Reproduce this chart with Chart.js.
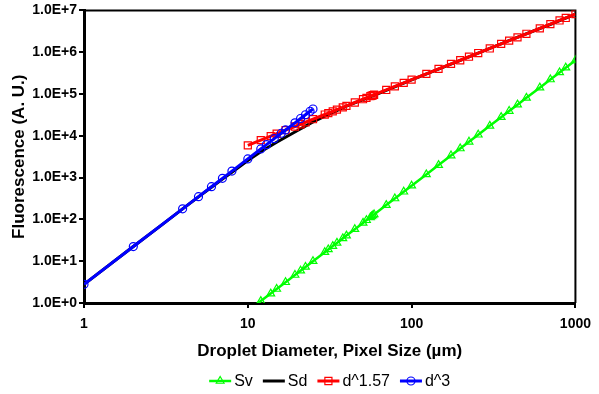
<!DOCTYPE html>
<html><head><meta charset="utf-8">
<script src="https://cdn.jsdelivr.net/npm/chart.js@4.4.1/dist/chart.umd.min.js"></script>
<style>html,body{margin:0;padding:0;background:#fff;overflow:hidden;}</style>
</head><body>
<canvas id="c" width="599" height="394"></canvas>
<script>
// ---- data ----
const xTickValues = [1, 10, 100, 1000];
const yTickValues = [1, 1e1, 1e2, 1e3, 1e4, 1e5, 1e6, 1e7];
const seriesNames = ['Sv', 'Sd', 'd^1.57', 'd^3'];

// pixel sizes (µm) shared by the Sv and d^1.57 series
const pixelSizes = [10, 12, 13.8, 15, 17, 19.4, 21, 22.5, 25, 29.5, 31, 33, 35, 38, 40, 45, 50.5, 53, 56, 57, 58, 59,
  70, 79, 89.5, 100, 123, 146, 174, 198, 224, 255, 300, 352, 394, 443, 502, 606, 703, 800, 873, 1000];
const svValues = [0.64, 1.11, 1.68, 2.16, 3.14, 4.67, 5.93, 7.29, 10.0, 16.4, 19.1, 23.0, 27.4, 35.1, 41.0, 58.3, 82.4, 95.3, 112, 118, 125, 131,
  220, 316, 459, 640, 1190, 1990, 3370, 4970, 7190, 10600, 17300, 27900, 39100, 55600, 81000, 142000, 222000, 328000, 426000, 640000];
const d157Values = [5900, 7860, 9800, 11200, 13600, 16700, 18900, 21100, 24900, 32300, 34900, 38500, 42200, 48000, 52100, 62600, 75100, 81000, 88400, 90800, 93300, 95900,
  125000, 152000, 184000, 220000, 304000, 398000, 524000, 642000, 779000, 954000, 1230000, 1580000, 1890000, 2270000, 2760000, 3710000, 4690000, 5750000, 6590000, 8150000];

// Sd curve
const sdDiameters = [1, 2, 3, 4, 5, 6, 7, 8, 10, 12, 15, 20, 25, 30, 40, 60, 100, 200, 400, 700, 1000];
const sdValues = [2.8, 22.4, 75, 178, 345, 590, 920, 1340, 2550, 4150, 7000, 13200, 21500, 30500, 51000, 95000, 219000, 650000, 1950000, 4600000, 8100000];

// d^3 series
const d3Diameters = [1, 2, 4, 5, 6, 7, 8, 10, 12, 13, 14.5, 16, 17, 19.4, 21, 22.5, 24, 25];
const d3Values = [2.8, 22.4, 179, 350, 605, 960, 1430, 2800, 4840, 6150, 8540, 11500, 13800, 20400, 25900, 31900, 38700, 43800];

// ---- styling ----
const FONT = '"Liberation Sans", Arial, sans-serif';
const seriesStyle = [
  { color: '#00ff00', marker: 'triangle', radius: 4.5, width: 2.5 },
  { color: '#000000', marker: null, radius: 0, width: 3 },
  { color: '#ff0000', marker: 'rect', radius: 5, width: 3 },
  { color: '#0000ff', marker: 'circle', radius: 4, width: 3 }
];

function pts(xs, ys) { return xs.map((x, i) => ({ x: x, y: ys[i] })); }

function makeDataset(idx, data, order) {
  const s = seriesStyle[idx];
  return {
    label: seriesNames[idx],
    data: data,
    showLine: true,
    borderColor: s.color,
    backgroundColor: 'rgba(0,0,0,0)',
    borderWidth: s.width,
    pointStyle: s.marker || 'circle',
    pointRadius: s.radius,
    pointBorderWidth: 1.2,
    pointBorderColor: s.color,
    pointBackgroundColor: 'rgba(0,0,0,0)',
    tension: 0,
    order: order
  };
}

function drawMarker(ctx, type, x, y, r, color) {
  ctx.save();
  ctx.strokeStyle = color; ctx.lineWidth = 1.2;
  ctx.beginPath();
  if (type === 'circle') { ctx.arc(x, y, r, 0, Math.PI * 2); }
  else if (type === 'rect') { const h = r * Math.SQRT1_2; ctx.rect(x - h, y - h, 2 * h, 2 * h); }
  else if (type === 'triangle') {
    ctx.moveTo(x, y - r);
    ctx.lineTo(x + r * Math.sin(Math.PI / 3) , y + r * 0.5);
    ctx.lineTo(x - r * Math.sin(Math.PI / 3), y + r * 0.5);
    ctx.closePath();
  }
  ctx.stroke();
  ctx.restore();
}

const framePlugin = {
  id: 'frame',
  beforeDatasetsDraw(chart) {
    const { ctx, chartArea: a } = chart;
    ctx.save();
    ctx.strokeStyle = '#000';
    ctx.lineWidth = 2;
    ctx.beginPath();
    ctx.moveTo(a.left, a.top); ctx.lineTo(a.right, a.top); ctx.lineTo(a.right, a.bottom);
    ctx.stroke();
    ctx.restore();
  }
};

const legendPlugin = {
  id: 'customLegend',
  afterDraw(chart) {
    const { ctx, chartArea: a } = chart;
    ctx.save();
    ctx.font = '16px ' + FONT;
    ctx.textBaseline = 'middle';
    ctx.fillStyle = '#000';
    const lineLen = 22, gapText = 3, gapItem = 10;
    const widths = seriesNames.map(n => lineLen + gapText + ctx.measureText(n).width);
    const total = widths.reduce((p, c) => p + c, 0) + gapItem * (seriesNames.length - 1);
    let x = (a.left + a.right) / 2 - total / 2;
    const y = 381;
    seriesNames.forEach((n, i) => {
      const s = seriesStyle[i];
      ctx.strokeStyle = s.color; ctx.lineWidth = s.width;
      ctx.beginPath(); ctx.moveTo(x, y); ctx.lineTo(x + lineLen, y); ctx.stroke();
      if (s.marker) drawMarker(ctx, s.marker, x + lineLen / 2, y, s.radius, s.color);
      ctx.fillText(n, x + lineLen + gapText, y + 1);
      x += widths[i] + gapItem;
    });
    ctx.restore();
  }
};

new Chart(document.getElementById('c'), {
  type: 'scatter',
  data: {
    datasets: [
      makeDataset(0, pts(pixelSizes, svValues), 4),
      makeDataset(1, pts(sdDiameters, sdValues), 3),
      makeDataset(2, pts(pixelSizes, d157Values), 2),
      makeDataset(3, pts(d3Diameters, d3Values), 1)
    ]
  },
  options: {
    responsive: false,
    animation: false,
    devicePixelRatio: 1,
    layout: { padding: { left: 0, right: 23, top: 10, bottom: 32 } },
    plugins: { legend: { display: false }, tooltip: { enabled: false } },
    scales: {
      x: {
        type: 'logarithmic', min: 1, max: 1000, position: 'bottom',
        afterBuildTicks: s => { s.ticks = xTickValues.map(v => ({ value: v })); },
        afterFit: s => { s.height = 59; },
        ticks: { callback: v => String(v), color: '#000', padding: 8, maxRotation: 0, autoSkip: false,
                 font: { family: FONT, size: 14, weight: 'bold' } },
        grid: { drawOnChartArea: false, drawTicks: true, tickLength: 5, color: '#000', lineWidth: 2 },
        border: { display: true, color: '#000', width: 3 },
        title: { display: true, text: 'Droplet Diameter, Pixel Size (µm)', color: '#000',
                 font: { family: FONT, size: 17, weight: 'bold' }, padding: { top: 0, bottom: 0 } }
      },
      y: {
        type: 'logarithmic', min: 1, max: 1e7,
        afterBuildTicks: s => { s.ticks = yTickValues.map(v => ({ value: v })); },
        afterFit: s => { s.width = 84; },
        ticks: { callback: v => '1.0E+' + Math.round(Math.log10(v)), color: '#000', padding: 2, autoSkip: false,
                 font: { family: FONT, size: 14, weight: 'bold' } },
        grid: { drawOnChartArea: false, drawTicks: true, tickLength: 5, color: '#000', lineWidth: 2 },
        border: { display: true, color: '#000', width: 3 },
        title: { display: true, text: 'Fluorescence (A. U.)', color: '#000',
                 font: { family: FONT, size: 17, weight: 'bold' }, padding: { top: 9, bottom: 0 } }
      }
    }
  },
  plugins: [framePlugin, legendPlugin]
});
</script>
</body></html>
